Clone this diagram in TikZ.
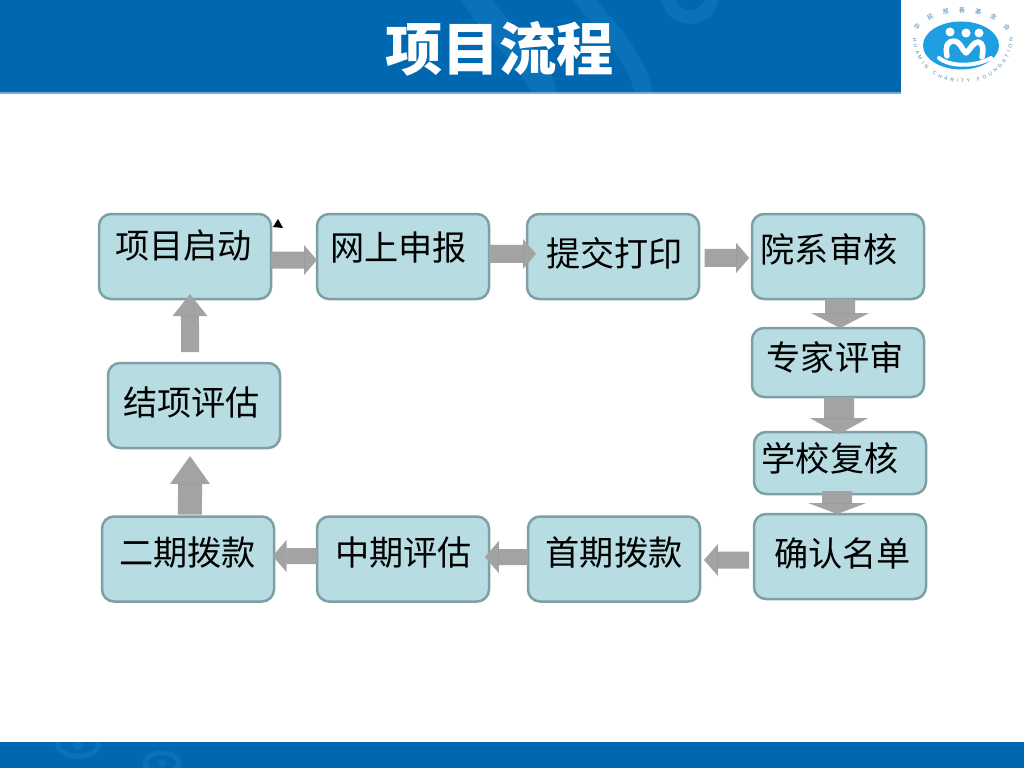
\documentclass[tikz,border=0pt]{standalone}
\usepackage{fontspec}
\setmainfont{Liberation Sans}
\newfontfamily\cjkfont{Noto Sans CJK SC}
\usetikzlibrary{arrows.meta,decorations.text}

\newcommand{\pxlen}{0.025cm}
\definecolor{barblue}{HTML}{0068B0}
\definecolor{swirlblue}{HTML}{0A72B8}
\definecolor{logoblue}{HTML}{1E9FE2}
\definecolor{logotext}{HTML}{4A86B0}
\definecolor{boxfill}{HTML}{B7DDE3}
\definecolor{boxline}{HTML}{7F9FA6}
\definecolor{arrowgray}{HTML}{A3A3A3}

\tikzset{
  stepbox/.style={draw=boxline, fill=boxfill, line width=2.5*\pxlen, rounded corners=12*\pxlen,
    outer sep=0pt, inner sep=0pt, minimum width=172*\pxlen},
  boxtext/.style={font=\cjkfont\fontsize{24.3pt}{28pt}\selectfont, text=black, inner sep=0pt},
  flowarrow/.style n args={3}{draw=arrowgray, line width=#1*\pxlen,
    -{Triangle[length=#2*\pxlen, width=#3*\pxlen, line width=0pt, fill=arrowgray]}},
  swirl/.style={draw=swirlblue, line cap=round},
}

\begin{document}
\begin{tikzpicture}[x=\pxlen, y=-\pxlen]
  \useasboundingbox (0,0) rectangle (1024,768);
  \fill[white] (0,0) rectangle (1024,768);

  % top bar
  \fill[barblue] (0,0) rectangle (901,93);
  \begin{scope}
    \clip (0,0) rectangle (901,93);
    \draw[swirl, line width=26*\pxlen] (470,-10) .. controls (500,40) and (540,60) .. (545,100);
    \draw[swirl, line width=18*\pxlen] (575,-10) .. controls (610,30) and (640,60) .. (645,100);
    \draw[swirl, line width=14*\pxlen] (690,-5) circle (22);
  \end{scope}
  \fill[cyan!60!blue!55] (0,92.5) rectangle (901,94.5);
  \node[font=\cjkfont\bfseries\fontsize{40.7pt}{48pt}\selectfont, text=white, inner sep=0pt] (title) at (499.5,49) {项目流程};

  % logo
  \fill[logoblue] (961,45.5) ellipse (38 and 24);
  \fill[white] (950,32) circle (4.5) (966,33) circle (4.5) (979,33) circle (4.5);
  \draw[white, line width=5.5*\pxlen, line cap=round, line join=round]
    (947,56) .. controls (945,45) and (948,41) .. (954,41) .. controls (960,41) and (962,50) .. (966,53)
    .. controls (970,50) and (973,42) .. (978,42) .. controls (983,42) and (984,50) .. (982,57);
  \draw[white, line width=4*\pxlen, line cap=round]
    (939,58) .. controls (950,67) and (975,67) .. (991,58);
  \path[decorate, decoration={text along path, text align={fit to path},
      text={|\color{logotext}\fontsize{3.6pt}{3.6pt}\selectfont|HUAMIN CHARITY FOUNDATION}}]
    (913,38) .. controls (916,98) and (1010,98) .. (1013,38);
  \path[decorate, decoration={text along path, text align={fit to path},
      text={|\color{logotext}\cjkfont\fontsize{4.4pt}{4.4pt}\selectfont|华民慈善基金会}}]
    (917,31) .. controls (935,6) and (990,6) .. (1007,31);

  % bottom bar
  \fill[barblue] (0,742) rectangle (1024,768);
  \begin{scope}
    \clip (0,742) rectangle (1024,768);
    \draw[swirl, line width=5*\pxlen] (78,745) ellipse (20 and 11);
    \draw[swirl, line width=5*\pxlen] (162,763) ellipse (17 and 10);
    \fill[swirlblue] (78,745) circle (5) (162,763) circle (4);
  \end{scope}

  % boxes
  \node[stepbox, minimum height=85*\pxlen] (start)   at (185,256.5) {};
  \node[stepbox, minimum height=85*\pxlen] (online)  at (403,256.5) {};
  \node[stepbox, minimum height=85*\pxlen] (submit)  at (613,256.5) {};
  \node[stepbox, minimum height=85*\pxlen] (dept)    at (838,256.5) {};
  \node[stepbox, minimum height=69*\pxlen] (expert)  at (838,362.5) {};
  \node[stepbox, minimum height=62*\pxlen] (school)  at (840,463) {};
  \node[stepbox, minimum height=85*\pxlen] (confirm) at (840,556.5) {};
  \node[stepbox, minimum height=85*\pxlen] (first)   at (614,559) {};
  \node[stepbox, minimum height=85*\pxlen] (midterm) at (403,559) {};
  \node[stepbox, minimum height=85*\pxlen] (second)  at (188,559) {};
  \node[stepbox, minimum height=85*\pxlen] (final)   at (194,405.5) {};

  % box texts
  \node[boxtext] (starttext)   at (183.5,246) {项目启动};
  \node[boxtext] (onlinetext)  at (398.5,248) {网上申报};
  \node[boxtext] (submittext)  at (614.5,253) {提交打印};
  \node[boxtext] (depttext)    at (829,249) {院系审核};
  \node[boxtext] (experttext)  at (835,357) {专家评审};
  \node[boxtext] (schooltext)  at (830,458) {学校复核};
  \node[boxtext] (confirmtext) at (842.5,553) {确认名单};
  \node[boxtext] (firsttext)   at (614,553) {首期拨款};
  \node[boxtext] (midtermtext) at (403.5,553) {中期评估};
  \node[boxtext] (secondtext)  at (187.5,553) {二期拨款};
  \node[boxtext] (finaltext)   at (191.5,402) {结项评估};

  % arrows
  \begin{scope}[blend group=multiply]
    \draw[flowarrow={17}{13}{30}] ([yshift=-2.5pt]start.east) -- ([yshift=-2.5pt]online.west);
    \draw[flowarrow={18}{13}{30}] ([yshift=1.8pt]online.east) -- ([xshift=6.4pt,yshift=1.8pt]submit.west);
    \draw[flowarrow={18}{13}{30}] ([xshift=4pt,yshift=-1pt]submit.east) -- ([xshift=-2pt,yshift=-1pt]dept.west);
    \draw[flowarrow={30}{15}{58}] ([xshift=1.5pt]dept.south) -- ([xshift=1.5pt]expert.north);
    \draw[flowarrow={30}{16}{58}] ([xshift=0.7pt]expert.south) -- ([xshift=-0.7pt,yshift=-1.5pt]school.north);
    \draw[flowarrow={30}{11}{58}] ([xshift=-2pt,yshift=2pt]school.south) -- ([xshift=-2pt]confirm.north);
    \draw[flowarrow={17}{14}{32}] ([xshift=-3.5pt,yshift=-2.5pt]confirm.west) -- ([xshift=2.8pt,yshift=-0.7pt]first.east);
    \draw[flowarrow={16}{14}{32}] ([yshift=1.4pt]first.west) -- ([xshift=-3pt,yshift=1.4pt]midterm.east);
    \draw[flowarrow={16}{14}{32}] ([yshift=2.1pt]midterm.west) -- ([xshift=-1pt,yshift=2.1pt]second.east);
    \draw[flowarrow={24}{28}{40}] ([xshift=1.4pt,yshift=1.4pt]second.north) -- ([xshift=-2.8pt,yshift=-5.7pt]final.south);
    \draw[flowarrow={18}{22}{35}] ([xshift=-2.8pt,yshift=7.8pt]final.north) -- ([xshift=3.5pt,yshift=3.5pt]start.south);
  \end{scope}

  % small mark beside the first box
  \fill[black] (273,227) -- (278,219) -- (283,228) -- cycle;
\end{tikzpicture}
\end{document}
